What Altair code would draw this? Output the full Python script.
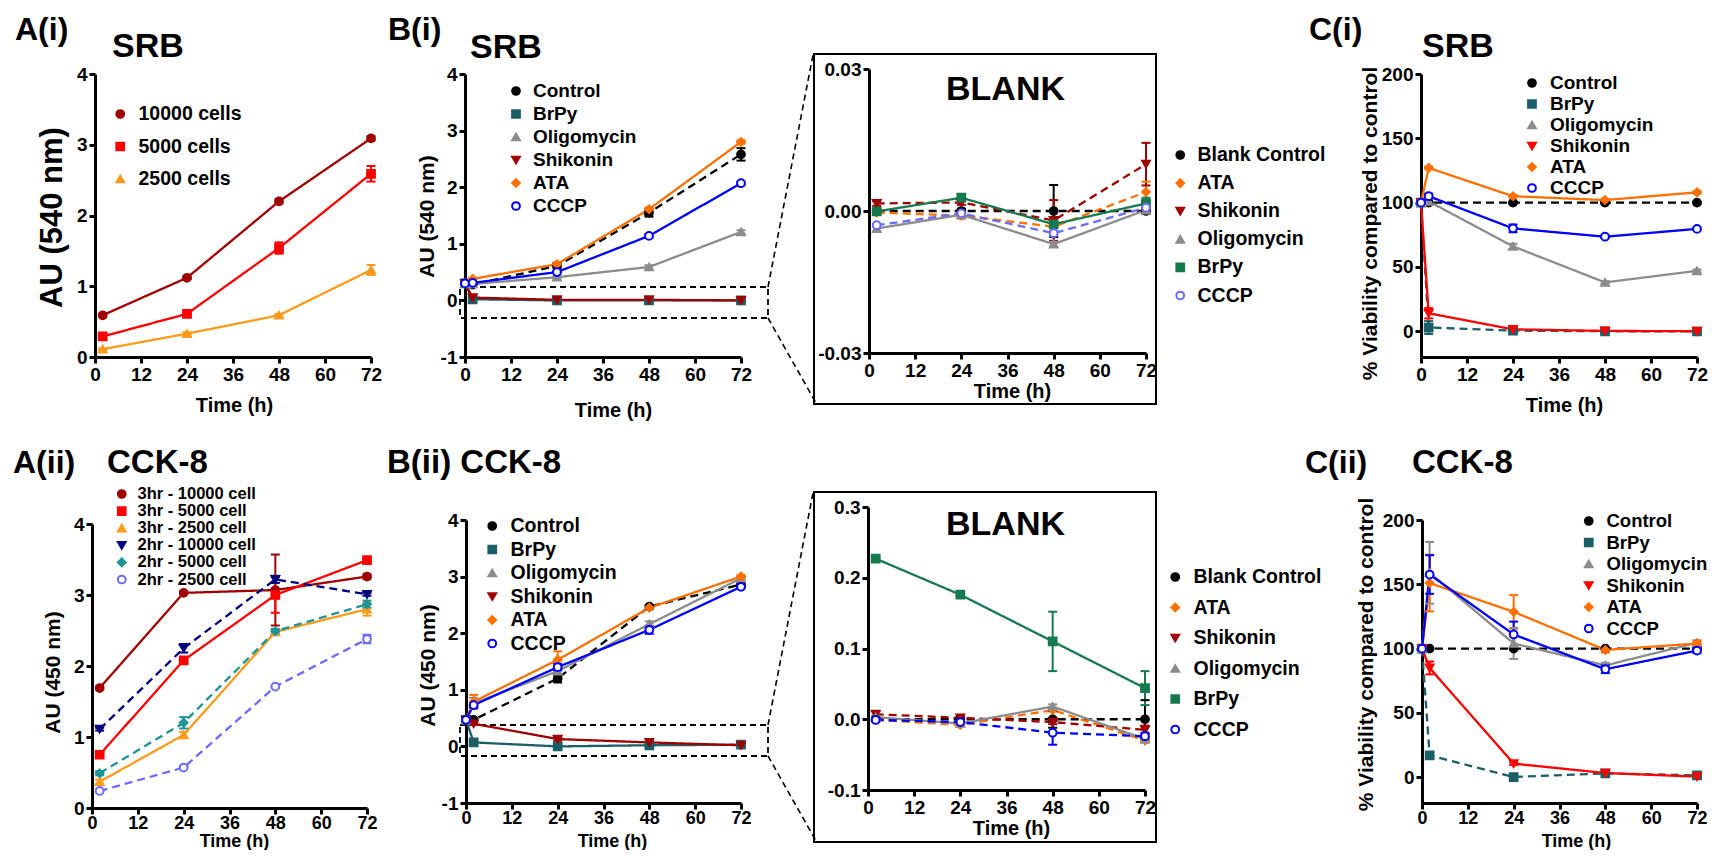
import altair as alt
import pandas as pd

FONT = "Liberation Sans"
W, H = 1700, 842
M = 8

T4 = [2, 24, 48, 72]
T5 = [0, 2, 24, 48, 72]
XTICKS = [0, 12, 24, 36, 48, 60, 72]

# ---------------- A(i) SRB ----------------
a1_names = ["10000 cells", "5000 cells", "2500 cells"]
a1_10000 = [0.59, 1.12, 2.20, 3.09]
a1_5000 = [0.29, 0.61, 1.54, 2.59]
a1_2500 = [0.11, 0.33, 0.59, 1.23]
a1_10000_err = [0.02, 0.02, 0.03, 0.03]
a1_5000_err = [0.02, 0.03, 0.08, 0.11]
a1_2500_err = [0.01, 0.02, 0.02, 0.07]

# ---------------- B(i) SRB ----------------
drug_names = ["Control", "BrPy", "Oligomycin", "Shikonin", "ATA", "CCCP"]
b1_control = [0.30, 0.28, 0.61, 1.55, 2.58]
b1_brpy = [0.30, 0.02, 0.00, 0.00, 0.00]
b1_oligo = [0.30, 0.29, 0.41, 0.59, 1.21]
b1_shik = [0.30, 0.05, 0.01, 0.01, 0.00]
b1_ata = [0.30, 0.38, 0.64, 1.61, 2.80]
b1_cccp = [0.30, 0.31, 0.50, 1.14, 2.07]
b1_control_err = [0, 0.02, 0.04, 0.07, 0.11]
b1_brpy_err = [0, 0.01, 0.01, 0.01, 0.01]
b1_oligo_err = [0, 0.02, 0.02, 0.03, 0.03]
b1_shik_err = [0, 0.02, 0.01, 0.01, 0.01]
b1_ata_err = [0, 0.02, 0.03, 0.03, 0.03]
b1_cccp_err = [0, 0.02, 0.02, 0.03, 0.03]

# ---------------- BLANK (i) ----------------
blank_names = ["Blank Control", "ATA", "Shikonin", "Oligomycin", "BrPy", "CCCP"]
k1_control = [0.0, 0.0, 0.0, 0.0]
k1_ata = [-0.0003, -0.0010, -0.0033, 0.0040]
k1_shik = [0.0016, 0.0018, -0.0020, 0.0099]
k1_oligo = [-0.0037, -0.0008, -0.0070, 0.0002]
k1_brpy = [-0.0001, 0.0028, -0.0028, 0.0016]
k1_cccp = [-0.0030, -0.0005, -0.0047, 0.0007]
k1_control_err = [0.0005, 0.0005, 0.0055, 0.0005]
k1_ata_err = [0.0005, 0.0006, 0.0010, 0.0022]
k1_shik_err = [0.0005, 0.0005, 0.0043, 0.0045]
k1_oligo_err = [0.0007, 0.0005, 0.0005, 0.0003]
k1_brpy_err = [0.0006, 0.0005, 0.0015, 0.0012]
k1_cccp_err = [0.0003, 0.0003, 0.0005, 0.0013]

# ---------------- C(i) SRB ----------------
c1_control = [100, 100, 100, 100, 100]
c1_brpy = [100, 2.9, 0.5, 0.0, 0.0]
c1_oligo = [100, 101, 66, 38, 47]
c1_shik = [100, 14, 1.5, 0.3, 0.0]
c1_ata = [100, 127, 105, 102, 108]
c1_cccp = [100, 105, 80, 73.5, 79.6]
c1_control_err = [0, 0.5, 0.5, 0.5, 0.5]
c1_brpy_err = [0, 5, 0.5, 0.5, 0.5]
c1_oligo_err = [0, 1, 2, 1, 1]
c1_shik_err = [0, 4, 0.5, 0.5, 0.5]
c1_ata_err = [0, 1, 1, 1, 1]
c1_cccp_err = [0, 2, 3, 1, 1]

# ---------------- A(ii) CCK-8 ----------------
a2_names = ["3hr - 10000 cell", "3hr - 5000 cell", "3hr - 2500 cell",
            "2hr - 10000 cell", "2hr - 5000 cell", "2hr - 2500 cell"]
a2_3h_10000 = [1.69, 3.03, 3.07, 3.26]
a2_3h_5000 = [0.75, 2.08, 3.00, 3.49]
a2_3h_2500 = [0.37, 1.03, 2.48, 2.80]
a2_2h_10000 = [1.11, 2.25, 3.22, 3.01]
a2_2h_5000 = [0.49, 1.20, 2.49, 2.87]
a2_2h_2500 = [0.24, 0.57, 1.71, 2.38]
a2_3h_10000_err = [0.02, 0.02, 0.50, 0.03]
a2_3h_5000_err = [0.03, 0.04, 0.25, 0.03]
a2_3h_2500_err = [0.03, 0.04, 0.04, 0.09]
a2_2h_10000_err = [0.02, 0.06, 0.05, 0.02]
a2_2h_5000_err = [0.03, 0.08, 0.03, 0.05]
a2_2h_2500_err = [0.02, 0.02, 0.02, 0.06]

# ---------------- B(ii) CCK-8 ----------------
b2_control = [0.47, 0.47, 1.20, 2.47, 2.86]
b2_brpy = [0.47, 0.07, 0.00, 0.02, 0.03]
b2_oligo = [0.47, 0.76, 1.33, 2.16, 2.97]
b2_shik = [0.47, 0.40, 0.13, 0.07, 0.02]
b2_ata = [0.47, 0.79, 1.53, 2.45, 3.00]
b2_cccp = [0.47, 0.73, 1.40, 2.06, 2.82]
b2_control_err = [0, 0.02, 0.07, 0.03, 0.04]
b2_brpy_err = [0, 0.02, 0.01, 0.01, 0.01]
b2_oligo_err = [0, 0.10, 0.06, 0.05, 0.03]
b2_shik_err = [0, 0.02, 0.03, 0.02, 0.01]
b2_ata_err = [0, 0.12, 0.15, 0.03, 0.03]
b2_cccp_err = [0, 0.05, 0.06, 0.07, 0.03]

# ---------------- BLANK (ii) ----------------
k2_control = [0.0, 0.0, 0.0, 0.0]
k2_ata = [-0.001, -0.008, 0.013, -0.030]
k2_shik = [0.007, 0.002, -0.004, -0.015]
k2_oligo = [0.003, -0.006, 0.018, -0.028]
k2_brpy = [0.227, 0.176, 0.110, 0.044]
k2_cccp = [-0.001, -0.004, -0.019, -0.024]
k2_control_err = [0.002, 0.002, 0.012, 0.027]
k2_ata_err = [0.002, 0.002, 0.002, 0.003]
k2_shik_err = [0.005, 0.003, 0.003, 0.006]
k2_oligo_err = [0.002, 0.002, 0.003, 0.003]
k2_brpy_err = [0.002, 0.002, 0.042, 0.024]
k2_cccp_err = [0.002, 0.002, 0.017, 0.005]

# ---------------- C(ii) CCK-8 ----------------
c2_control = [100, 100, 100, 100, 100]
c2_brpy = [100, 17, 0.2, 3, 1.5]
c2_oligo = [100, 159, 104, 87, 104.5]
c2_shik = [100, 85, 10.6, 3.3, 0.5]
c2_ata = [100, 151, 128.6, 99, 104]
c2_cccp = [100, 157.6, 111, 84, 98.5]
c2_control_err = [0, 0.5, 0.5, 0.5, 0.5]
c2_brpy_err = [0, 2, 0.5, 0.5, 0.5]
c2_oligo_err = [0, 24, 12, 2, 2]
c2_shik_err = [0, 5, 1, 0.5, 0.5]
c2_ata_err = [0, 22, 13, 2, 2]
c2_cccp_err = [0, 15, 10, 3, 2]

# ---------------- styles ----------------
DARKRED = "#A00000"
RED = "#FF0000"
ORANGE_A = "#FF9A1A"
ORANGE = "#FF7000"
TEAL = "#1B5E68"
GRAY = "#8C8C8C"
BLUE = "#0000FF"
LIGHTBLUE = "#6B6BFF"
GREEN = "#167A4E"
NAVY = "#00007F"
CYAN = "#1E9494"
SOLID = [1, 0]
DASH = [8, 5]
PT = 60


def gx(v):
    return v - M


def gy(v):
    return v - M


def frame(names, times, vals, errs):
    rows = []
    for n, vs, es in zip(names, vals, errs):
        for t, v, e in zip(times, vs, es):
            rows.append({"s": n, "t": t, "v": v, "e": e, "lo": v - e, "hi": v + e})
    return pd.DataFrame(rows)


AXBASE = dict(domainColor="black", domainWidth=3, tickColor="black", tickWidth=3, tickSize=6,
              labelColor="black", labelFont=FONT, labelFontWeight="bold",
              labelFlush=False, labelOverlap=False, grid=False,
              labelExpr="replace(datum.label, '\u2212', '-')",
              titleColor="black", titleFont=FONT, titleFontWeight="bold")


def legend(sym_x, text_x, row1_y, spacing, fs):
    return alt.Legend(orient="none", legendX=gx(sym_x - 4.5), legendY=gy(row1_y - fs / 2),
                      title=None, padding=0, labelFont=FONT, labelFontSize=fs,
                      labelFontWeight="bold", labelColor="black", symbolSize=PT,
                      symbolStrokeWidth=2, symbolOpacity=1,
                      rowPadding=max(spacing - fs, 0), labelOffset=text_x - sym_x - 4.5)


def panel(df, names, colors, fills, shapes, dashes, xr, yr, ydom, yticks, yfmt,
          xtitle, ytitle, ytitle_pos, ytitle_size, leg, xpad=2, xtsize=20, xlsize=19):
    x0, x1 = xr
    yb, yt = yr
    xs = alt.Scale(domain=[0, 72], range=[gx(x0), gx(x1)], nice=False, zero=False)
    ys = alt.Scale(domain=ydom, range=[gy(yb), gy(yt)], nice=False, zero=False)
    xaxis = alt.Axis(orient="bottom", offset=gy(yb) - H, values=XTICKS, title="Time (h)",
                     titleFontSize=xtsize, titleX=gx(xtitle[0]), titleY=xtitle[1] - yb,
                     titleBaseline="alphabetic", titleAlign="center", labelPadding=xpad,
                     labelFontSize=xlsize, **AXBASE)
    if ytitle:
        yaxis = alt.Axis(orient="left", offset=-gx(x0), values=yticks, format=yfmt,
                         title=ytitle, titleFontSize=ytitle_size,
                         titleX=ytitle_pos[0] - x0, titleY=gy(ytitle_pos[1]),
                         titleAngle=270, titleAlign="center", titleBaseline="middle",
                         labelPadding=2, labelFontSize=19, **AXBASE)
    else:
        yaxis = alt.Axis(orient="left", offset=-gx(x0), values=yticks, format=yfmt,
                         title=None, labelPadding=2, labelFontSize=19, **AXBASE)
    stroke_s = alt.Scale(domain=names, range=colors)
    X = alt.X("t:Q", scale=xs, axis=xaxis)
    Xn = alt.X("t:Q", scale=xs, axis=None)
    line = alt.Chart(df).mark_line(strokeWidth=2.3).encode(
        x=X, y=alt.Y("v:Q", scale=ys, axis=yaxis),
        stroke=alt.Stroke("s:N", scale=stroke_s, legend=None),
        strokeDash=alt.StrokeDash("s:N", scale=alt.Scale(domain=names, range=dashes), legend=None))
    edf = df[df.e > 0]
    err = alt.Chart(edf).mark_rule(strokeWidth=2).encode(
        x=Xn, y=alt.Y("lo:Q", scale=ys, axis=None), y2="hi:Q",
        color=alt.Color("s:N", scale=stroke_s, legend=None))
    cap_lo = alt.Chart(edf).mark_tick(orient="horizontal", size=9, thickness=2, opacity=1).encode(
        x=Xn, y=alt.Y("lo:Q", scale=ys, axis=None),
        color=alt.Color("s:N", scale=stroke_s, legend=None))
    cap_hi = alt.Chart(edf).mark_tick(orient="horizontal", size=9, thickness=2, opacity=1).encode(
        x=Xn, y=alt.Y("hi:Q", scale=ys, axis=None),
        color=alt.Color("s:N", scale=stroke_s, legend=None))
    pts = alt.Chart(df).mark_point(filled=True, opacity=1, size=PT, strokeWidth=2).encode(
        x=Xn, y=alt.Y("v:Q", scale=ys, axis=None),
        stroke=alt.Stroke("s:N", scale=stroke_s, legend=leg),
        fill=alt.Fill("s:N", scale=alt.Scale(domain=names, range=fills), legend=leg),
        shape=alt.Shape("s:N", scale=alt.Scale(domain=names, range=shapes), legend=leg))
    return [line, err, cap_lo, cap_hi, pts]


ONE = pd.DataFrame({"k": [0]})


def label(txt, x, y, size=32):
    return alt.Chart(ONE).mark_text(text=txt, align="left", baseline="alphabetic", font=FONT,
                                    fontSize=size, fontWeight="bold", color="black").encode(
        x=alt.value(gx(x)), y=alt.value(gy(y)))


def box(x0, y0, x1, y1, dashed):
    kw = dict(fill="transparent", stroke="black", strokeWidth=1.8 if dashed else 2)
    if dashed:
        kw["strokeDash"] = [6, 4]
    return alt.Chart(ONE).mark_rect(**kw).encode(
        x=alt.value(gx(x0)), x2=alt.value(gx(x1)), y=alt.value(gy(y0)), y2=alt.value(gy(y1)))


def connector(x0, y0, x1, y1):
    return alt.Chart(ONE).mark_rule(stroke="black", strokeWidth=1.6, strokeDash=[6, 4]).encode(
        x=alt.value(gx(x0)), x2=alt.value(gx(x1)), y=alt.value(gy(y0)), y2=alt.value(gy(y1)))


drug_colors_b = ["black", TEAL, GRAY, DARKRED, ORANGE, BLUE]
drug_colors_c = ["black", TEAL, GRAY, RED, ORANGE, BLUE]
drug_fills_b = ["black", TEAL, GRAY, DARKRED, ORANGE, "white"]
drug_fills_c = ["black", TEAL, GRAY, RED, ORANGE, "white"]
drug_shapes = ["circle", "square", "triangle-up", "triangle-down", "diamond", "circle"]
blank_shapes = ["circle", "diamond", "triangle-down", "triangle-up", "square", "circle"]

pA1 = panel(frame(a1_names, T4, [a1_10000, a1_5000, a1_2500],
                  [a1_10000_err, a1_5000_err, a1_2500_err]),
            a1_names, [DARKRED, RED, ORANGE_A], [DARKRED, RED, ORANGE_A],
            ["circle", "square", "triangle-up"], [SOLID, SOLID, SOLID],
            (95, 371), (357, 74), [0, 4], [0, 1, 2, 3, 4], "d",
            (234, 411), "AU (540 nm)", (52, 217), 31, legend(115, 128, 114, 31, 19.5))

pB1 = panel(frame(drug_names, T5, [b1_control, b1_brpy, b1_oligo, b1_shik, b1_ata, b1_cccp],
                  [b1_control_err, b1_brpy_err, b1_oligo_err, b1_shik_err, b1_ata_err, b1_cccp_err]),
            drug_names, drug_colors_b, drug_fills_b, drug_shapes,
            [DASH, SOLID, SOLID, SOLID, SOLID, SOLID],
            (465, 741), (357, 74), [-1, 4], [-1, 0, 1, 2, 3, 4], "d",
            (613, 416), "AU (540 nm)", (427, 216), 21, legend(511, 523, 91, 22, 19))

pK1 = panel(frame(blank_names, T4, [k1_control, k1_ata, k1_shik, k1_oligo, k1_brpy, k1_cccp],
                  [k1_control_err, k1_ata_err, k1_shik_err, k1_oligo_err, k1_brpy_err, k1_cccp_err]),
            blank_names, ["black", ORANGE, DARKRED, GRAY, GREEN, LIGHTBLUE],
            ["black", ORANGE, DARKRED, GRAY, GREEN, "white"], blank_shapes,
            [DASH, DASH, DASH, SOLID, SOLID, DASH],
            (869, 1146), (353, 69), [-0.03, 0.03], [-0.03, 0.0, 0.03], ".2f",
            (1012, 397), None, None, None, legend(1175, 1187, 155, 26.6, 19.5))

pC1 = panel(frame(drug_names, T5, [c1_control, c1_brpy, c1_oligo, c1_shik, c1_ata, c1_cccp],
                  [c1_control_err, c1_brpy_err, c1_oligo_err, c1_shik_err, c1_ata_err, c1_cccp_err]),
            drug_names, drug_colors_c, drug_fills_c, drug_shapes,
            [DASH, DASH, SOLID, SOLID, SOLID, SOLID],
            (1421, 1697), (357, 74), [-20, 200], [0, 50, 100, 150, 200], "d",
            (1564, 411), "% Viability compared to control", (1370, 223), 21,
            legend(1527, 1540, 83, 20, 19))

pA2 = panel(frame(a2_names, T4, [a2_3h_10000, a2_3h_5000, a2_3h_2500, a2_2h_10000, a2_2h_5000, a2_2h_2500],
                  [a2_3h_10000_err, a2_3h_5000_err, a2_3h_2500_err, a2_2h_10000_err,
                   a2_2h_5000_err, a2_2h_2500_err]),
            a2_names, [DARKRED, RED, ORANGE_A, NAVY, CYAN, LIGHTBLUE],
            [DARKRED, RED, ORANGE_A, NAVY, CYAN, "white"],
            ["circle", "square", "triangle-up", "triangle-down", "diamond", "circle"],
            [SOLID, SOLID, SOLID, DASH, DASH, DASH],
            (92, 367), (808, 524), [0, 4], [0, 1, 2, 3, 4], "d",
            (234, 846), "AU (450 nm)", (53, 672), 21, legend(118, 130, 494, 16.6, 16.5),
            xpad=0, xtsize=18, xlsize=18)

pB2 = panel(frame(drug_names, T5, [b2_control, b2_brpy, b2_oligo, b2_shik, b2_ata, b2_cccp],
                  [b2_control_err, b2_brpy_err, b2_oligo_err, b2_shik_err, b2_ata_err, b2_cccp_err]),
            drug_names, drug_colors_b, drug_fills_b, drug_shapes,
            [DASH, SOLID, SOLID, SOLID, SOLID, SOLID],
            (466, 741), (803, 520), [-1, 4], [-1, 0, 1, 2, 3, 4], "d",
            (612, 846), "AU (450 nm)", (428, 665), 21, legend(487, 500, 526, 22, 19.5),
            xpad=0, xtsize=18, xlsize=18)

pK2 = panel(frame(blank_names, T4, [k2_control, k2_ata, k2_shik, k2_oligo, k2_brpy, k2_cccp],
                  [k2_control_err, k2_ata_err, k2_shik_err, k2_oligo_err, k2_brpy_err, k2_cccp_err]),
            blank_names, ["black", ORANGE, DARKRED, GRAY, GREEN, BLUE],
            ["black", ORANGE, DARKRED, GRAY, GREEN, "white"], blank_shapes,
            [DASH, DASH, DASH, SOLID, SOLID, DASH],
            (868, 1145), (790, 507), [-0.1, 0.3], [-0.1, 0.0, 0.1, 0.2, 0.3], ".1f",
            (1011, 834), None, None, None, legend(1170, 1183, 577, 29, 19.5))

pC2 = panel(frame(drug_names, T5, [c2_control, c2_brpy, c2_oligo, c2_shik, c2_ata, c2_cccp],
                  [c2_control_err, c2_brpy_err, c2_oligo_err, c2_shik_err, c2_ata_err, c2_cccp_err]),
            drug_names, drug_colors_c, drug_fills_c, drug_shapes,
            [DASH, DASH, SOLID, SOLID, SOLID, SOLID],
            (1422, 1697), (803, 520), [-20, 200], [0, 50, 100, 150, 200], "d",
            (1576, 846), "% Viability compared to control", (1366, 654), 21,
            legend(1584, 1597, 521, 21, 18.5), xpad=0, xtsize=18, xlsize=18)

decor = [
    box(814, 54, 1156, 404, False), box(814, 492, 1156, 842, False),
    box(460, 287, 768, 318, True), box(460, 725, 768, 756, True),
    connector(768, 287, 813, 55), connector(768, 318, 816, 403),
    connector(768, 725, 813, 493), connector(768, 756, 816, 841),
]

texts = [
    label("A(i)", 15, 40), label("SRB", 112, 57, 34),
    label("B(i)", 388, 40), label("SRB", 470, 58, 34),
    label("BLANK", 946, 100, 34),
    label("C(i)", 1309, 40), label("SRB", 1422, 57, 34),
    label("A(ii)", 13, 473), label("CCK-8", 107, 473, 33),
    label("B(ii) CCK-8", 387, 473, 33),
    label("BLANK", 946, 535, 34),
    label("C(ii)", 1305, 473), label("CCK-8", 1412, 473, 33),
]

layers = decor + pA1 + pB1 + pK1 + pC1 + pA2 + pB2 + pK2 + pC2 + texts

chart = alt.layer(*layers).resolve_scale(
    x="independent", y="independent", color="independent", stroke="independent",
    fill="independent", shape="independent", strokeDash="independent",
).properties(
    width=W, height=H, padding=0, autosize=alt.AutoSizeParams(type="none")
).configure_view(strokeWidth=0)

chart.save("out.html", embed_options={"renderer": "svg", "actions": False})
